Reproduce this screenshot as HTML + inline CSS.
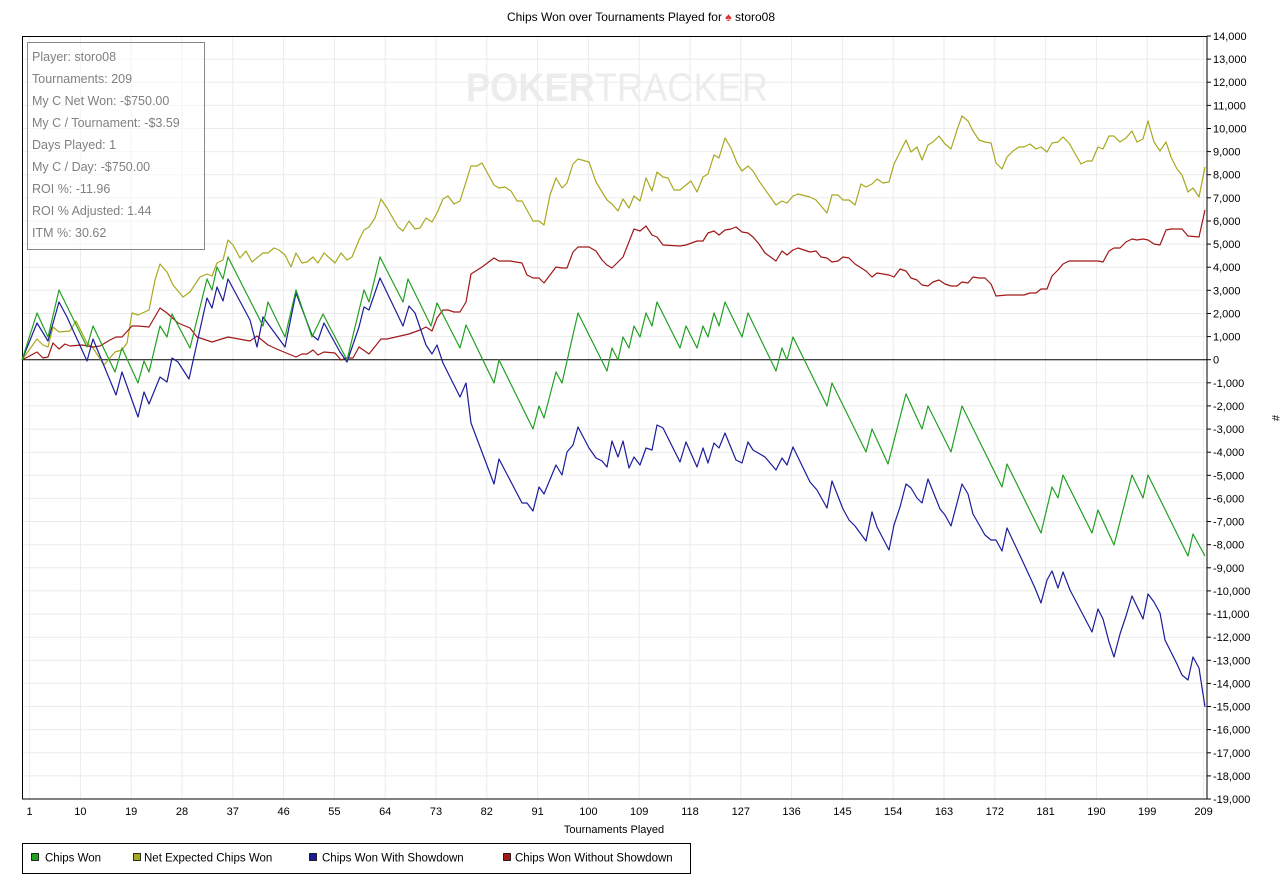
<!DOCTYPE html>
<html><head><meta charset="utf-8"><style>
body{margin:0;background:#fff;}
svg{display:block;font-family:"Liberation Sans",sans-serif;}
</style></head><body>
<svg width="1284" height="888" viewBox="0 0 1284 888" xmlns="http://www.w3.org/2000/svg">
<rect width="1284" height="888" fill="#fff"/>
<text x="641" y="21" font-size="12" text-anchor="middle" fill="#000">Chips Won over Tournaments Played for <tspan fill="#d33">♠</tspan> storo08</text>
<g stroke="#ebebeb" stroke-width="1">
<line x1="22" x2="1207" y1="59.1" y2="59.1"/><line x1="22" x2="1207" y1="82.2" y2="82.2"/><line x1="22" x2="1207" y1="105.4" y2="105.4"/><line x1="22" x2="1207" y1="128.5" y2="128.5"/><line x1="22" x2="1207" y1="151.6" y2="151.6"/><line x1="22" x2="1207" y1="174.7" y2="174.7"/><line x1="22" x2="1207" y1="197.8" y2="197.8"/><line x1="22" x2="1207" y1="221" y2="221"/><line x1="22" x2="1207" y1="244.1" y2="244.1"/><line x1="22" x2="1207" y1="267.2" y2="267.2"/><line x1="22" x2="1207" y1="290.3" y2="290.3"/><line x1="22" x2="1207" y1="313.5" y2="313.5"/><line x1="22" x2="1207" y1="336.6" y2="336.6"/><line x1="22" x2="1207" y1="382.8" y2="382.8"/><line x1="22" x2="1207" y1="405.9" y2="405.9"/><line x1="22" x2="1207" y1="429.1" y2="429.1"/><line x1="22" x2="1207" y1="452.2" y2="452.2"/><line x1="22" x2="1207" y1="475.3" y2="475.3"/><line x1="22" x2="1207" y1="498.4" y2="498.4"/><line x1="22" x2="1207" y1="521.5" y2="521.5"/><line x1="22" x2="1207" y1="544.7" y2="544.7"/><line x1="22" x2="1207" y1="567.8" y2="567.8"/><line x1="22" x2="1207" y1="590.9" y2="590.9"/><line x1="22" x2="1207" y1="614" y2="614"/><line x1="22" x2="1207" y1="637.2" y2="637.2"/><line x1="22" x2="1207" y1="660.3" y2="660.3"/><line x1="22" x2="1207" y1="683.4" y2="683.4"/><line x1="22" x2="1207" y1="706.5" y2="706.5"/><line x1="22" x2="1207" y1="729.6" y2="729.6"/><line x1="22" x2="1207" y1="752.8" y2="752.8"/><line x1="22" x2="1207" y1="775.9" y2="775.9"/>
<line y1="36" y2="799" x1="29.6" x2="29.6"/><line y1="36" y2="799" x1="80.4" x2="80.4"/><line y1="36" y2="799" x1="131.2" x2="131.2"/><line y1="36" y2="799" x1="182" x2="182"/><line y1="36" y2="799" x1="232.8" x2="232.8"/><line y1="36" y2="799" x1="283.6" x2="283.6"/><line y1="36" y2="799" x1="334.4" x2="334.4"/><line y1="36" y2="799" x1="385.2" x2="385.2"/><line y1="36" y2="799" x1="436" x2="436"/><line y1="36" y2="799" x1="486.8" x2="486.8"/><line y1="36" y2="799" x1="537.6" x2="537.6"/><line y1="36" y2="799" x1="588.4" x2="588.4"/><line y1="36" y2="799" x1="639.2" x2="639.2"/><line y1="36" y2="799" x1="690" x2="690"/><line y1="36" y2="799" x1="740.8" x2="740.8"/><line y1="36" y2="799" x1="791.6" x2="791.6"/><line y1="36" y2="799" x1="842.4" x2="842.4"/><line y1="36" y2="799" x1="893.2" x2="893.2"/><line y1="36" y2="799" x1="944" x2="944"/><line y1="36" y2="799" x1="994.8" x2="994.8"/><line y1="36" y2="799" x1="1045.6" x2="1045.6"/><line y1="36" y2="799" x1="1096.4" x2="1096.4"/><line y1="36" y2="799" x1="1147.2" x2="1147.2"/><line y1="36" y2="799" x1="1203.6" x2="1203.6"/>
</g>
<text x="466" y="101" font-size="40" font-weight="bold" fill="#ececec" textLength="302" lengthAdjust="spacingAndGlyphs">POKER<tspan font-weight="normal">TRACKER</tspan></text>
<rect x="22.5" y="36.5" width="1184.5" height="762.5" fill="none" stroke="#000" stroke-width="1"/>
<line x1="22" x2="1207" y1="359.7" y2="359.7" stroke="#000" stroke-width="1"/>
<g fill="none" stroke-width="1.2" stroke-linejoin="round">
<polyline stroke="#a8a820" points="22,360 37,339 43,345 48,347 53,327 59,332 70,331 76,321 87,343 93,348 104,365 115,352 122,350 127,343 132,313 138,315 149,310 155,280 160,264 167,272 173,285 183,297 190,292 200,277 207,274 212,276 217,263 223,260 228,240 233,245 240,258 246,251 252,262 263,253 268,253 274,248 279,250 285,255 291,267 296,253 302,263 307,262 313,257 318,263 324,253 335,263 341,253 347,260 352,257 359,240 364,230 369,227 375,218 381,199 387,208 398,227 403,231 409,221 415,229 420,228 426,218 432,222 437,213 443,199 448,196 454,204 460,201 471,166 477,166 482,163 494,185 499,188 505,187 511,191 517,201 522,201 533,221 539,221 544,225 550,195 556,178 562,188 567,183 573,164 578,159 589,162 596,182 607,200 612,204 618,211 623,199 629,208 634,196 640,201 646,178 652,191 657,172 663,177 668,178 674,190 680,190 686,185 691,181 697,192 703,177 708,174 714,155 719,158 725,138 731,148 737,163 742,171 748,166 753,171 759,181 776,205 782,201 787,203 793,196 798,194 810,197 816,200 827,213 832,195 838,195 843,200 849,200 855,205 861,184 866,187 872,184 877,179 883,183 889,182 894,164 906,140 911,152 917,147 922,160 928,145 933,142 939,136 945,144 951,149 957,130 962,116 968,121 973,131 979,140 985,142 991,143 996,163 1002,169 1007,157 1013,151 1019,147 1024,147 1030,144 1036,149 1041,147 1047,152 1052,143 1058,142 1063,137 1069,143 1081,164 1087,161 1092,161 1098,147 1103,149 1109,136 1114,136 1120,142 1126,138 1132,131 1137,142 1143,139 1148,121 1154,142 1160,151 1166,142 1171,157 1177,169 1182,175 1188,192 1193,188 1199,197 1205,167"/>
<polyline stroke="#a01818" points="22,360 37,352 43,358 48,357 53,343 59,349 65,344 70,346 82,345 93,347 100,346 110,340 116,337 122,337 132,326 138,326 149,327 160,308 167,313 178,323 190,328 197,337 212,342 228,337 250,341 257,336 268,345 279,350 296,357 302,354 307,354 313,350 318,355 324,352 335,353 341,360 347,358 353,358 359,347 369,354 381,339 387,339 409,334 420,330 426,327 432,331 437,318 443,310 448,310 454,312 460,312 466,302 471,274 482,267 494,258 499,261 510,261 522,263 527,275 533,278 539,278 544,283 556,267 562,268 567,268 573,252 578,247 589,247 596,251 602,260 607,265 612,268 623,257 634,229 640,231 646,226 652,235 657,237 663,245 680,246 686,245 697,241 703,241 708,233 714,231 719,235 725,230 731,229 736,227 742,232 748,233 753,237 759,244 765,253 776,261 782,251 787,255 793,250 798,248 810,252 816,251 821,257 827,258 832,262 838,261 843,257 849,258 855,264 866,271 872,277 877,273 889,275 894,277 900,269 906,271 911,278 917,280 922,285 928,286 933,282 939,280 945,284 951,286 957,286 962,282 968,283 973,277 979,278 985,278 991,284 996,296 1007,295 1013,295 1024,295 1030,293 1036,293 1041,289 1047,289 1052,276 1058,270 1063,264 1069,261 1081,261 1098,261 1103,262 1109,251 1114,248 1120,248 1126,242 1132,239 1137,240 1143,239 1148,240 1154,244 1160,245 1166,230 1171,229 1182,229 1188,236 1199,237 1205,210"/>
<polyline stroke="#1c1c9c" points="22,360 37,323 48,341 59,302 67,317 87,361 93,339 116,395 122,372 138,417 144,392 149,404 160,377 167,382 172,358 178,362 189,379 207,298 212,308 217,287 223,301 228,279 250,320 257,347 263,317 285,347 296,293 312,335 318,340 324,323 340,352 347,362 359,327 364,307 369,310 380,278 403,326 409,306 415,313 426,345 432,354 437,345 443,363 460,397 466,383 471,423 494,484 499,459 522,503 527,503 533,511 539,487 544,494 556,465 562,475 567,452 573,445 578,427 589,448 596,458 602,461 607,467 612,441 618,457 623,441 629,468 634,457 640,465 646,448 652,450 657,425 663,428 680,462 686,442 697,467 703,448 708,463 714,443 719,448 725,433 736,460 742,463 748,442 753,450 765,457 776,470 782,458 787,465 793,447 810,482 817,490 827,508 832,481 843,509 849,520 855,526 866,541 872,512 877,527 889,550 894,525 900,507 906,484 911,488 917,498 922,503 928,479 940,509 945,515 951,526 962,484 968,494 973,514 985,535 991,540 996,540 1002,551 1007,528 1023,562 1035,588 1041,603 1047,580 1052,571 1058,588 1063,572 1070,590 1092,632 1098,609 1103,619 1109,642 1114,657 1120,634 1126,616 1132,596 1143,619 1148,594 1154,602 1160,613 1165,640 1177,664 1182,675 1188,680 1193,657 1199,668 1205,707"/>
<polyline stroke="#22a022" points="22,360 37,313 48,337 59,290 87,347 93,326 115,372 122,348 138,383 144,361 149,372 160,326 167,337 172,314 190,348 207,279 212,290 217,267 223,279 228,257 263,326 268,302 285,337 296,290 312,337 323,314 347,360 364,290 369,302 380,257 403,302 408,279 431,326 437,303 460,348 466,325 494,383 499,360 533,429 539,406 544,418 556,372 562,383 578,313 607,371 612,348 618,360 623,337 629,348 634,326 640,337 646,313 652,326 657,302 680,348 686,326 697,348 703,326 708,337 714,313 719,326 725,302 742,337 748,313 776,371 782,348 787,360 793,337 827,406 832,383 866,452 872,429 888,464 906,394 922,429 928,406 951,452 962,406 1002,487 1007,464 1041,533 1052,487 1058,498 1063,475 1092,533 1098,510 1114,545 1132,475 1143,498 1148,475 1188,556 1193,534 1205,556"/>
</g>
<rect x="27.5" y="42.5" width="177" height="207" fill="#fff" fill-opacity="0.55" stroke="#888" stroke-width="1"/>
<g font-size="12.5" fill="#808080">
<text x="32" y="61">Player: storo08</text>
<text x="32" y="83">Tournaments: 209</text>
<text x="32" y="105">My C Net Won: -$750.00</text>
<text x="32" y="127">My C / Tournament: -$3.59</text>
<text x="32" y="149">Days Played: 1</text>
<text x="32" y="171">My C / Day: -$750.00</text>
<text x="32" y="193">ROI %: -11.96</text>
<text x="32" y="215">ROI % Adjusted: 1.44</text>
<text x="32" y="237">ITM %: 30.62</text>
</g>
<g stroke="#000" stroke-width="1">
<line x1="1207" x2="1211" y1="36" y2="36"/><line x1="1207" x2="1211" y1="59.1" y2="59.1"/><line x1="1207" x2="1211" y1="82.2" y2="82.2"/><line x1="1207" x2="1211" y1="105.4" y2="105.4"/><line x1="1207" x2="1211" y1="128.5" y2="128.5"/><line x1="1207" x2="1211" y1="151.6" y2="151.6"/><line x1="1207" x2="1211" y1="174.7" y2="174.7"/><line x1="1207" x2="1211" y1="197.8" y2="197.8"/><line x1="1207" x2="1211" y1="221" y2="221"/><line x1="1207" x2="1211" y1="244.1" y2="244.1"/><line x1="1207" x2="1211" y1="267.2" y2="267.2"/><line x1="1207" x2="1211" y1="290.3" y2="290.3"/><line x1="1207" x2="1211" y1="313.5" y2="313.5"/><line x1="1207" x2="1211" y1="336.6" y2="336.6"/><line x1="1207" x2="1211" y1="359.7" y2="359.7"/><line x1="1207" x2="1211" y1="382.8" y2="382.8"/><line x1="1207" x2="1211" y1="405.9" y2="405.9"/><line x1="1207" x2="1211" y1="429.1" y2="429.1"/><line x1="1207" x2="1211" y1="452.2" y2="452.2"/><line x1="1207" x2="1211" y1="475.3" y2="475.3"/><line x1="1207" x2="1211" y1="498.4" y2="498.4"/><line x1="1207" x2="1211" y1="521.5" y2="521.5"/><line x1="1207" x2="1211" y1="544.7" y2="544.7"/><line x1="1207" x2="1211" y1="567.8" y2="567.8"/><line x1="1207" x2="1211" y1="590.9" y2="590.9"/><line x1="1207" x2="1211" y1="614" y2="614"/><line x1="1207" x2="1211" y1="637.2" y2="637.2"/><line x1="1207" x2="1211" y1="660.3" y2="660.3"/><line x1="1207" x2="1211" y1="683.4" y2="683.4"/><line x1="1207" x2="1211" y1="706.5" y2="706.5"/><line x1="1207" x2="1211" y1="729.6" y2="729.6"/><line x1="1207" x2="1211" y1="752.8" y2="752.8"/><line x1="1207" x2="1211" y1="775.9" y2="775.9"/><line x1="1207" x2="1211" y1="799" y2="799"/>
</g>
<g font-size="11" fill="#000">
<text x="1213" y="40">14,000</text><text x="1213" y="63.1">13,000</text><text x="1213" y="86.2">12,000</text><text x="1213" y="109.4">11,000</text><text x="1213" y="132.5">10,000</text><text x="1213" y="155.6">9,000</text><text x="1213" y="178.7">8,000</text><text x="1213" y="201.8">7,000</text><text x="1213" y="225">6,000</text><text x="1213" y="248.1">5,000</text><text x="1213" y="271.2">4,000</text><text x="1213" y="294.3">3,000</text><text x="1213" y="317.5">2,000</text><text x="1213" y="340.6">1,000</text><text x="1213" y="363.7">0</text><text x="1213" y="386.8">-1,000</text><text x="1213" y="409.9">-2,000</text><text x="1213" y="433.1">-3,000</text><text x="1213" y="456.2">-4,000</text><text x="1213" y="479.3">-5,000</text><text x="1213" y="502.4">-6,000</text><text x="1213" y="525.5">-7,000</text><text x="1213" y="548.7">-8,000</text><text x="1213" y="571.8">-9,000</text><text x="1213" y="594.9">-10,000</text><text x="1213" y="618">-11,000</text><text x="1213" y="641.2">-12,000</text><text x="1213" y="664.3">-13,000</text><text x="1213" y="687.4">-14,000</text><text x="1213" y="710.5">-15,000</text><text x="1213" y="733.6">-16,000</text><text x="1213" y="756.8">-17,000</text><text x="1213" y="779.9">-18,000</text><text x="1213" y="803">-19,000</text>
</g>
<text x="1272" y="418" font-size="11" transform="rotate(90 1272 418)" text-anchor="middle">#</text>
<g font-size="11" fill="#000" text-anchor="middle">
<text x="29.6" y="815">1</text><text x="80.4" y="815">10</text><text x="131.2" y="815">19</text><text x="182" y="815">28</text><text x="232.8" y="815">37</text><text x="283.6" y="815">46</text><text x="334.4" y="815">55</text><text x="385.2" y="815">64</text><text x="436" y="815">73</text><text x="486.8" y="815">82</text><text x="537.6" y="815">91</text><text x="588.4" y="815">100</text><text x="639.2" y="815">109</text><text x="690" y="815">118</text><text x="740.8" y="815">127</text><text x="791.6" y="815">136</text><text x="842.4" y="815">145</text><text x="893.2" y="815">154</text><text x="944" y="815">163</text><text x="994.8" y="815">172</text><text x="1045.6" y="815">181</text><text x="1096.4" y="815">190</text><text x="1147.2" y="815">199</text><text x="1203.6" y="815">209</text>
<text x="614" y="833">Tournaments Played</text>
</g>
<rect x="22.5" y="843.5" width="668" height="30" fill="#fff" stroke="#000" stroke-width="1"/>
<g stroke="#000" stroke-width="0.8">
<rect x="31.5" y="853.5" width="7" height="7" fill="#22a022"/>
<rect x="133.5" y="853.5" width="7" height="7" fill="#a8a820"/>
<rect x="309.5" y="853.5" width="7" height="7" fill="#1c1c9c"/>
<rect x="503.5" y="853.5" width="7" height="7" fill="#a01818"/>
</g>
<g font-size="11.5" fill="#000">
<text x="45" y="861.5">Chips Won</text>
<text x="144" y="861.5">Net Expected Chips Won</text>
<text x="322" y="861.5">Chips Won With Showdown</text>
<text x="515" y="861.5">Chips Won Without Showdown</text>
</g>
</svg>
</body></html>
